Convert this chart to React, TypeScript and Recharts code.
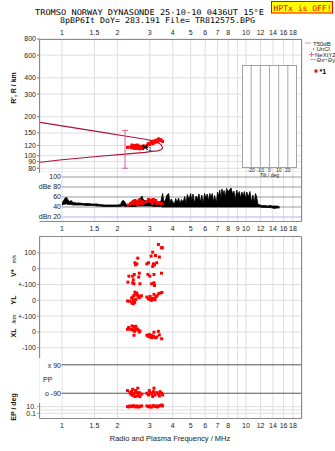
import React from 'react';
import { ComposedChart, Line, Scatter, Area, XAxis, YAxis, CartesianGrid, ErrorBar } from 'recharts';

const F_MIN = 0.759;
const F_MAX = 20.15;
const FREQ_TICKS = [1, 1.5, 2, 3, 4, 5, 6, 7, 8, 9, 10, 12, 14, 16, 18];

// range panel (R', km)
const R_TICKS = [80, 90, 100, 120, 150, 200, 300, 400, 600, 800];
const traceFreq = [0.76, 1, 1.6, 2.2, 2.83, 3.07, 3.3, 3.45, 3.52, 3.45, 3.3, 3.07, 2.83, 2.2, 1.6, 1, 0.76];
const traceR = [181, 170, 153, 142, 134, 131, 127, 122, 115, 111, 109, 108, 106, 103, 99, 93, 89];
const echoFreq = [2.27, 2.36, 2.39, 2.4, 2.42, 2.45, 2.47, 2.48, 2.5, 2.52, 2.55, 2.56, 2.58, 2.6, 2.63, 2.64, 2.66, 2.7, 2.72, 2.74, 2.78, 2.86, 2.91, 2.95, 3.0, 3.04, 3.08, 3.12, 3.16, 3.2, 3.25, 3.3, 3.35, 3.4, 3.45, 3.52];
const echoR = [116, 117, 115, 121, 119, 116, 114, 120, 118, 115, 114, 121, 117, 119, 115, 113, 116, 118, 114, 117, 119, 118, 121, 124, 122, 126, 128, 124, 130, 127, 132, 128, 135, 131, 133, 129];
const errFreq = 2.2;
const errLow = 80;
const errHigh = 157;
const markFreq = 2.83;
const markR = 116;

// amplitude panel (dB)
const DBE_TICKS = [20, 40, 60, 80, 100];
const DBE_LABELS = ['dBn 20', '40', '60', 'dBe 80', '100'];
const ampFreq = [1.0, 1.02, 1.04, 1.06, 1.08, 1.1, 1.12, 1.15, 1.2, 1.25, 1.3, 1.35, 1.4, 1.45, 1.5, 1.55, 1.6, 1.7, 1.8, 1.9, 2.0, 2.08, 2.12, 2.16, 2.2, 2.24, 2.3, 2.4, 2.5, 2.6, 2.68, 2.72, 2.76, 2.85, 2.95, 3.05, 3.15, 3.25, 3.35, 3.45, 3.52, 3.58, 3.65, 3.72, 3.8, 3.86, 3.92, 4.0, 4.08, 4.15, 4.22, 4.3, 4.38, 4.46, 4.55, 4.65, 4.72, 4.8, 4.9, 5.0, 5.08, 5.15, 5.25, 5.35, 5.45, 5.55, 5.65, 5.75, 5.85, 5.95, 6.05, 6.15, 6.25, 6.35, 6.45, 6.55, 6.65, 6.75, 6.9, 7.0, 7.1, 7.2, 7.3, 7.4, 7.5, 7.6, 7.7, 7.85, 8.0, 8.15, 8.3, 8.45, 8.6, 8.75, 8.9, 9.05, 9.2, 9.35, 9.5, 9.65, 9.8, 9.95, 10.1, 10.3, 10.5, 10.7, 10.9, 11.1, 11.25, 11.4, 11.6, 11.9, 12.3, 12.7, 13.1, 13.5, 13.9, 14.3, 14.7, 15.2];
const ampLo = [44, 45, 46, 46, 45, 45, 45, 44, 44, 44, 44, 43, 43, 43, 43, 42, 42, 41, 41, 41, 41, 41, 42, 42, 41, 41, 41, 41, 41, 42, 42, 42, 42, 42, 42, 42, 41, 41, 41, 41, 40, 40, 40, 40, 40, 40, 40, 40, 40, 40, 40, 40, 40, 40, 40, 40, 40, 40, 40, 40, 40, 40, 40, 40, 40, 40, 40, 40, 40, 40, 40, 40, 40, 40, 40, 40, 40, 40, 40, 40, 40, 40, 40, 40, 40, 40, 40, 40, 40, 40, 40, 40, 40, 40, 40, 40, 40, 40, 40, 40, 40, 40, 40, 40, 40, 40, 40, 40, 40, 40, 40, 40, 39, 39, 39, 39, 38, 37, 38, 38];
const ampHi = [48, 53, 58, 59, 54, 51, 53, 49, 48, 48, 47, 47, 47, 46, 46, 46, 45, 44, 44, 44, 44, 45, 52, 53, 50, 44, 45, 47, 50, 55, 58, 62, 55, 52, 56, 54, 52, 50, 46, 52, 67, 50, 54, 64, 67, 48, 56, 50, 46, 57, 49, 58, 47, 55, 50, 61, 46, 65, 55, 67, 52, 66, 48, 62, 56, 66, 50, 64, 46, 67, 58, 66, 52, 67, 60, 67, 50, 63, 48, 70, 62, 74, 58, 76, 66, 73, 60, 77, 70, 75, 78, 66, 72, 55, 74, 64, 71, 58, 70, 62, 71, 56, 70, 60, 71, 50, 64, 48, 67, 62, 46, 44, 43, 43, 42, 43, 42, 42, 42, 41];
const ampEchoFreq = [2.29, 2.36, 2.41, 2.44, 2.46, 2.49, 2.55, 2.57, 2.6, 2.63, 2.65, 2.71, 2.74, 2.8, 2.89, 2.95, 2.98, 3.03, 3.07, 3.1, 3.14, 3.2, 3.23, 3.27, 3.34, 3.41, 3.48];
const ampEchoDb = [44, 47, 49, 51, 46, 53, 49, 45, 51, 54, 47, 51, 46, 49, 51, 55, 53, 51, 54, 47, 55, 51, 53, 47, 49, 46, 47];

// drift and polarisation panel
const V_OFF = 400;
const YL_OFF = 200;
const XL_OFF = 0;
const vFreq = [3.34, 3.47, 3.51, 3.11, 3.22, 3.05, 3.38, 2.89, 2.95, 3.14, 3.27, 3.11, 3.18, 3.47, 2.93, 3.0, 3.16, 3.07, 3.16, 3.18, 2.58, 2.49, 2.55, 2.51, 2.63, 2.47, 2.42, 2.31, 2.61, 2.44, 2.28, 2.42, 2.65, 2.46];
const vVal = [154, 133, 133, 105, 84, 80, 74, 31, 38, 31, 38, 15, 25, -28, -36, -47, -36, -95, -89, -106, 67, 38, 31, 25, -28, -36, -47, -47, -53, -70, -85, -89, -95, -95];
const ylFreq = [2.27, 2.34, 2.4, 2.44, 2.48, 2.42, 2.46, 2.51, 2.57, 2.6, 2.65, 2.7, 2.55, 2.49, 2.63, 2.52, 2.44, 2.39, 2.89, 2.95, 3.0, 3.06, 3.11, 3.16, 3.23, 3.28, 3.35, 3.42, 3.49, 3.01, 3.11, 3.2];
const ylVal = [-4, -6, -17, -21, -13, 21, 31, 40, 33, 25, 23, 29, 46, 52, 17, 6, 0, 15, 21, 10, 6, 0, 13, 38, 21, 29, 42, 46, 50, 25, 6, 4];
const xlFreq = [2.27, 2.3, 2.4, 2.46, 2.49, 2.55, 2.6, 2.65, 2.44, 2.39, 2.52, 2.57, 2.63, 2.46, 2.36, 2.48, 2.89, 2.95, 3.01, 3.07, 3.14, 3.16, 3.22, 3.27, 3.34, 3.38, 3.48, 3.07, 2.98, 3.11];
const xlVal = [17, 28, 38, 34, 21, 15, 11, 6, 11, 15, 36, 19, 0, -21, 17, 4, -21, -28, -32, -36, -28, -2, -36, -32, 4, -19, -43, -21, -17, -32];
const ppFreq = [2.27, 2.34, 2.39, 2.42, 2.44, 2.47, 2.51, 2.55, 2.58, 2.6, 2.63, 2.65, 2.71, 2.49, 2.41, 2.36, 2.57, 2.89, 2.95, 3.01, 3.07, 3.14, 3.16, 3.2, 3.27, 3.34, 3.41, 3.48, 3.52, 2.98, 3.11, 3.38];
const ppVal = [-73, -86, -80, -65, -97, -90, -73, -86, -58, -101, -86, -111, -95, -111, -103, -95, -107, -90, -101, -86, -95, -80, -58, -101, -86, -95, -80, -90, -101, -73, -111, -107];
const epFreq = [2.27, 2.31, 2.34, 2.4, 2.44, 2.49, 2.52, 2.55, 2.6, 2.62, 2.65, 2.71, 2.89, 2.95, 3.0, 3.01, 3.07, 3.14, 3.2, 3.27, 3.3, 3.34, 3.41, 3.48, 3.52];
const epVal = [10.5, 8.3, 16.6, 10.5, 20.9, 10.5, 8.3, 16.6, 10.5, 8.3, 13.2, 16.6, 16.6, 10.5, 8.3, 16.6, 8.3, 20.9, 10.5, 16.6, 8.3, 13.2, 20.9, 33, 16.6];
const ppToU = (p: number) => p - 298;
const epToU = (e: number) => -494 + 21 * Math.log10(e);
const LOWER_TICKS = [epToU(0.1), epToU(10), XL_OFF - 100, XL_OFF, XL_OFF + 100, YL_OFF, YL_OFF + 100, V_OFF, V_OFF + 100];
const LOWER_LABELS = ['0.1', '10.', '-100', '0', '+-100', '0', '+-100', '0', '100'];

// tilt inset, no echoes in it
const TILT_TICKS = [-20, -10, 0, 10, 20];

const zip = (xs: number[], ys: number[], map = (v: number) => v) => xs.map((f, i) => ({ f, y: map(ys[i]) }));

const trace = zip(traceFreq, traceR);
const echoes = zip(echoFreq, echoR);
const errMid = Math.sqrt(errLow * errHigh);
const errPoint = [{ f: errFreq, y: errMid, err: [errMid - errLow, errHigh - errMid] }];
const mark = [{ f: markFreq, y: markR }];
const amp = ampFreq.map((f, i) => ({ f, lo: ampLo[i], hi: ampHi[i] }));
const ampEchoes = zip(ampEchoFreq, ampEchoDb);
const lowerPts = [
  ...zip(vFreq, vVal, (v) => v + V_OFF),
  ...zip(ylFreq, ylVal, (v) => v + YL_OFF),
  ...zip(xlFreq, xlVal, (v) => v + XL_OFF),
  ...zip(ppFreq, ppVal, ppToU),
  ...zip(epFreq, epVal, epToU),
];
const tiltFrame = TILT_TICKS.map((x) => ({ x, y: 0.5 }));

const FONT = 'Liberation Sans, Arial, sans-serif';
const MONO = 'DejaVu Sans Mono, monospace';
const tickStyle = { fontSize: 7, fill: '#222', fontFamily: FONT };

const Dot = (p: any) => <rect x={p.cx - 1.5} y={p.cy - 1.5} width={3} height={3} fill="#ff0000" />;
const Hidden = () => <g />;
const Mark = (p: any) => (
  <g stroke="#000" strokeWidth={1.1}>
    <line x1={p.cx - 2.5} y1={p.cy - 2.5} x2={p.cx + 2.5} y2={p.cy + 2.5} />
    <line x1={p.cx - 2.5} y1={p.cy + 2.5} x2={p.cx + 2.5} y2={p.cy - 2.5} />
    <line x1={p.cx - 3} y1={p.cy} x2={p.cx + 3} y2={p.cy} />
    <text x={p.cx + 3} y={p.cy + 4} fontSize={6} stroke="none" fill="#000" fontFamily={FONT}>1</text>
  </g>
);

const freqAxis = (props: any) => (
  <XAxis
    type="number"
    dataKey="f"
    scale="log"
    domain={[F_MIN, F_MAX]}
    allowDataOverflow
    ticks={FREQ_TICKS}
    interval={0}
    axisLine={false}
    tickLine={false}
    tick={tickStyle}
    {...props}
  />
);

export default function App() {
  const abs = (left: number, top: number): React.CSSProperties => ({ position: 'absolute', left, top });
  return (
    <div style={{ position: 'absolute', left: 0, top: 0, width: 335, height: 451, background: '#fff', overflow: 'hidden' }}>
      <div style={abs(0, 0)}>
        <ComposedChart width={335} height={172} margin={{ top: 0, right: 33, bottom: 0, left: 0 }}>
          <CartesianGrid stroke="#dedede" />
          {freqAxis({ orientation: 'top', height: 39, tickSize: 3, tickMargin: 1, tickFormatter: (v: number) => (v === 9 ? '' : String(v)) })}
          <YAxis type="number" dataKey="y" scale="log" domain={[74.8, 800]} allowDataOverflow ticks={R_TICKS} interval={0} width={40} tickSize={3} tickMargin={1} axisLine={false} tickLine={{ stroke: '#777' }} tick={tickStyle} />
          <Line data={trace} dataKey="y" type="linear" stroke="#b0103c" strokeWidth={1.2} dot={false} isAnimationActive={false} />
          <Scatter data={errPoint} dataKey="y" shape={Hidden} isAnimationActive={false}>
            <ErrorBar dataKey="err" direction="y" width={3} stroke="#e0609a" strokeWidth={1} />
          </Scatter>
          <Scatter data={echoes} dataKey="y" shape={Dot} isAnimationActive={false} />
          <Scatter data={mark} dataKey="y" shape={Mark} isAnimationActive={false} />
        </ComposedChart>
      </div>

      <div style={abs(0, 172)}>
        <ComposedChart width={335} height={62} margin={{ top: 0, right: 33, bottom: 0, left: 0 }}>
          <CartesianGrid stroke="#dedede" horizontal={false} />
          <CartesianGrid stroke="#999" vertical={false} horizontalValues={[40, 60, 80, 100]} />
          <CartesianGrid stroke="#b4b4f0" vertical={false} horizontalValues={[20]} />
          {freqAxis({ domain: [1, F_MAX], height: 12, tickSize: 2, tickMargin: 2 })}
          <YAxis type="number" dataKey="y" domain={[10, 110]} allowDataOverflow ticks={DBE_TICKS} interval={0} width={62} tickSize={0} tickMargin={1} axisLine={false} tickLine={false} tick={tickStyle} tickFormatter={(v: number) => DBE_LABELS[DBE_TICKS.indexOf(v)]} />
          <Area data={amp} dataKey={(d: any) => [d.lo, d.hi]} type="linear" stroke="#000" strokeWidth={0.8} fill="#000" fillOpacity={1} isAnimationActive={false} />
          <Scatter data={ampEchoes} dataKey="y" shape={Dot} isAnimationActive={false} />
        </ComposedChart>
      </div>

      <div style={abs(0, 237)}>
        <ComposedChart width={335} height={196} margin={{ top: 0, right: 33, bottom: 0, left: 0 }}>
          <CartesianGrid stroke="#dedede" horizontal={false} />
          <CartesianGrid stroke="#dedede" vertical={false} horizontalValues={[...LOWER_TICKS, epToU(1)]} />
          <CartesianGrid stroke="#555" vertical={false} horizontalValues={[ppToU(90), ppToU(-90)]} />
          {freqAxis({ height: 14, tickSize: 2, tickMargin: 2, tickFormatter: (v: number) => (v === 9 ? '' : String(v)) })}
          <YAxis type="number" dataKey="y" domain={[-551, 601]} allowDataOverflow ticks={LOWER_TICKS} interval={0} width={40} tickSize={3} tickMargin={1} axisLine={false} tickLine={{ stroke: '#999' }} tick={tickStyle} tickFormatter={(v: number) => LOWER_LABELS[LOWER_TICKS.indexOf(v)]} />
          <Scatter data={lowerPts} dataKey="y" shape={Dot} isAnimationActive={false} />
        </ComposedChart>
      </div>

      <div style={abs(242, 65)}>
        <ComposedChart width={55} height={113} data={tiltFrame} margin={{ top: 0, right: 0, bottom: 0, left: 0 }}>
          <CartesianGrid stroke="#a8a8b8" horizontal={false} fill="#fff" />
          <XAxis type="number" dataKey="x" domain={[-30, 30]} ticks={TILT_TICKS} interval={0} height={10} tickSize={0} tickMargin={0} axisLine={false} tickLine={false} tick={{ fontSize: 5, fill: '#222', fontFamily: FONT }} />
          <YAxis hide type="number" dataKey="y" domain={[0, 1]} />
          <Scatter dataKey="y" shape={Hidden} isAnimationActive={false} />
        </ComposedChart>
      </div>

      <svg width={335} height={451} style={{ position: 'absolute', left: 0, top: 0, pointerEvents: 'none' }}>
        <g fontFamily={MONO} fontSize={7.9} fill="#000" style={{ whiteSpace: 'pre' }}>
          <text x={35} y={14.5} textLength={229} lengthAdjust="spacingAndGlyphs">TROMSO NORWAY   DYNASONDE 25-10-10 0436UT 15°E</text>
          <text x={60} y={23} textLength={195} lengthAdjust="spacingAndGlyphs">8pBP6It DoY= 283.191 File= TR812575.BPG</text>
        </g>
        <rect x={271.5} y={1.5} width={61} height={11.5} fill="#ffff00" stroke="#ff0000" />
        <text x={273.5} y={10.5} fontFamily={MONO} fontSize={7.9} fill="#ff0000" textLength={58} lengthAdjust="spacingAndGlyphs" style={{ whiteSpace: 'pre' }}>HPTx is OFF!</text>

        <g stroke="#888" fill="none">
          <path d="M39.5 173 V39.5 H301.5 V221.5 H39.5" />
          <rect x={242.5} y={65.5} width={54} height={102} stroke="#a0a0a8" />
          <path d="M39.5 358 V236.5 H301.5 V418.5 H39.5 V403" />
        </g>

        <text x={269.5} y={176.6} textAnchor="middle" fontSize={5} fontFamily={FONT} fill="#222">Tilt / deg</text>

        <g fontFamily={FONT} fontWeight="bold" fill="#111" fontSize={7}>
          <text transform="translate(16 88) rotate(-90)" textAnchor="middle">R', R / km</text>
          <text transform="translate(16 273) rotate(-90)" textAnchor="middle">V*</text>
          <text transform="translate(16 259) rotate(-90)" textAnchor="middle" fontSize={5} fontWeight="normal">m/s</text>
          <text transform="translate(16 300) rotate(-90)" textAnchor="middle">YL</text>
          <text transform="translate(16 319) rotate(-90)" textAnchor="middle" fontSize={5.5} fontWeight="normal">/km</text>
          <text transform="translate(16 333) rotate(-90)" textAnchor="middle">XL</text>
          <text transform="translate(16 407) rotate(-90)" textAnchor="middle">EP / deg</text>
        </g>

        <rect x={40} y={358} width={21.5} height={45} fill="#fff" />
        <g fontFamily={FONT} fontSize={7} fill="#222">
          <text x={61} y={367.5} textAnchor="end">x  90</text>
          <text x={43} y={381.5}>PP</text>
          <text x={61} y={396} textAnchor="end">o -90</text>
        </g>

        <text x={170} y={441} textAnchor="middle" fontFamily={FONT} fontSize={7.5} fill="#222">Radio and Plasma Frequency / MHz</text>

        <g fontFamily={FONT} fontSize={6} fill="#222">
          <line x1={305} y1={43} x2={311} y2={43} stroke="#aaa" />
          <text x={313} y={45.5}>T50dB</text>
          <rect x={313} y={48.5} width={1} height={1} fill="#222" />
          <text x={316.5} y={51}>UnCl</text>
          <path d="M309 54.5 h5 M311.5 52 v5" stroke="#ff6699" />
          <text x={315} y={57}>NeXtYZ</text>
          <line x1={310} y1={59.5} x2={316} y2={59.5} stroke="#ff9999" />
          <text x={316.5} y={62}>Θx</text>
          <line x1={323} y1={59.5} x2={327} y2={59.5} stroke="#9999ff" />
          <text x={327.5} y={62}>Θy</text>
          <rect x={314.5} y={69.5} width={3} height={3} fill="#ff0000" />
          <text x={319.5} y={74} fontSize={7} fontWeight="bold" fill="#000">*1</text>
        </g>
      </svg>
    </div>
  );
}
